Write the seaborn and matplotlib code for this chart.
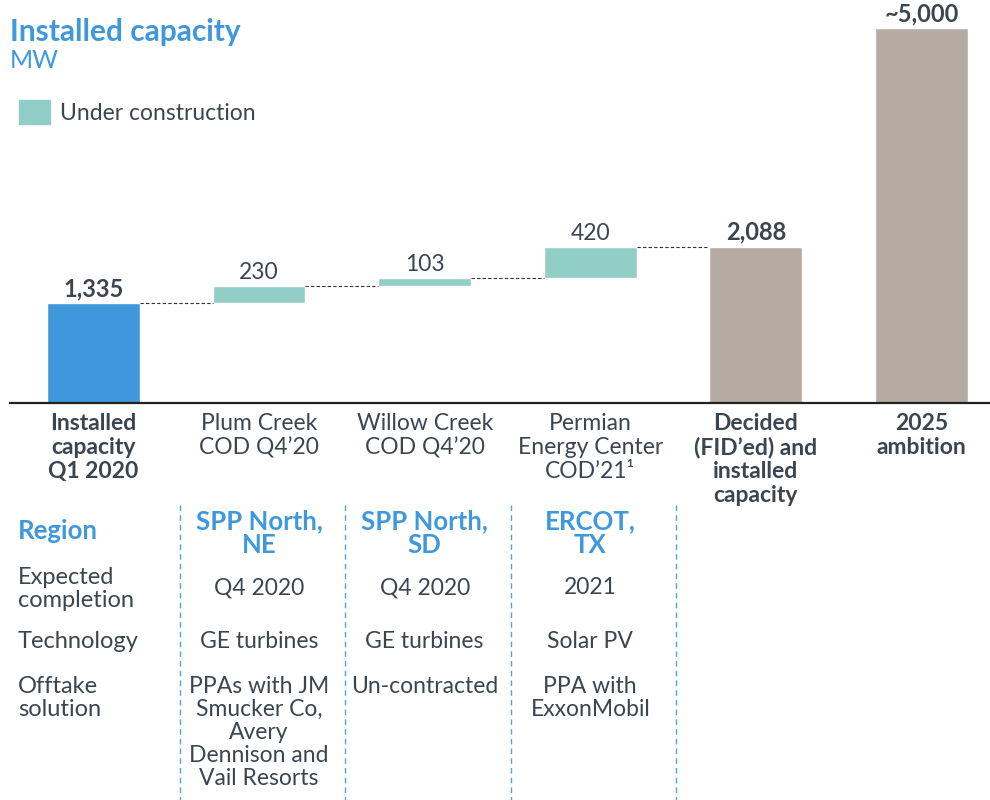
import numpy as np
import pandas as pd
import matplotlib.pyplot as plt
import seaborn as sns
from matplotlib.patches import Patch

# chart data
categories = ["Installed\ncapacity\nQ1 2020", "Plum Creek\nCOD Q4\u201920", "Willow Creek\nCOD Q4\u201920",
              "Permian\nEnergy Center\nCOD\u201921\u00b9", "Decided\n(FID\u2019ed) and\ninstalled\ncapacity",
              "2025\nambition"]
bold_cats = [True, False, False, False, True, True]
totals = [1335, np.nan, np.nan, np.nan, 2088, 5000]
steps = [230, 103, 420]
value_labels = ["1,335", "230", "103", "420", "2,088", "~5,000"]

row_names = ["Region", "Expected\ncompletion", "Technology", "Offtake\nsolution"]
region = ["SPP North,\nNE", "SPP North,\nSD", "ERCOT,\nTX"]
completion = ["Q4 2020", "Q4 2020", "2021"]
technology = ["GE turbines", "GE turbines", "Solar PV"]
offtake = ["PPAs with JM\nSmucker Co,\nAvery\nDennison and\nVail Resorts", "Un-contracted", "PPA with\nExxonMobil"]

BLUE = "#3f98dc"
TEAL = "#91cec7"
GREY = "#b5aba2"
TEXT = "#3b4550"
bar_colors = [BLUE, TEAL, TEAL, TEAL, GREY, GREY]
FS = 16.5

sns.set_style("white")
plt.rcParams['font.family'] = ['Lato', 'DejaVu Sans']

fig = plt.figure(figsize=(9.9, 8), dpi=100)
ax = fig.add_axes([10/990, 397/800, 980/990, 403/800])

df = pd.DataFrame({'cat': categories, 'total': totals})
sns.barplot(data=df, x='cat', y='total', hue='cat', order=categories, hue_order=categories,
            palette=dict(zip(categories, bar_colors)),
            width=0.56, legend=False, ax=ax, saturation=1)

# floating bars for projects under construction
bottoms = np.cumsum([totals[0]] + steps[:-1])
ax.bar([1, 2, 3], steps, bottom=bottoms, width=0.56, color=TEAL)

bar_tops = [totals[0]] + list(bottoms + np.array(steps)) + [totals[4], totals[5]]

# connectors
levels = [totals[0]] + list(bottoms[1:]) + [bottoms[-1] + steps[-1]]
for i, lv in enumerate(levels):
    ax.plot([i + 0.28, i + 0.72], [lv, lv], color="#333333", lw=0.8, ls=(0, (3, 2)))

for i, (t, lab) in enumerate(zip(bar_tops, value_labels)):
    ax.annotate(lab, (i, t), xytext=(0, 2), textcoords='offset points', ha='center', va='bottom',
                fontsize=17 if bold_cats[i] else FS, color=TEXT,
                fontweight='bold' if bold_cats[i] else 'normal')

ax.set_xlim(-0.504, 5.414)
ax.set_ylim(0, 5380)
ax.set_yticks([])
ax.set_xlabel('')
ax.set_ylabel('')
for s in ['top', 'right', 'left']:
    ax.spines[s].set_visible(False)
ax.spines['bottom'].set_color('#222222')
ax.spines['bottom'].set_linewidth(1.6)
ax.set_xticks(range(len(categories)))
ax.set_xticklabels(categories, fontsize=FS, color=TEXT, va='top')
for lbl, b in zip(ax.get_xticklabels(), bold_cats):
    lbl.set_fontweight('bold' if b else 'normal')
    lbl.set_linespacing(1.17)
ax.tick_params(axis='x', length=0, pad=7)

# title and legend
fig.text(10/990, 1 - 32/800, "Installed capacity", fontsize=21.5, fontweight='bold', color=BLUE, va='center')
fig.text(10/990, 1 - 60/800, "MW", fontsize=18, color=BLUE, va='center')
fig.legend(handles=[Patch(color=TEAL, label="Under construction")], loc='upper left',
           bbox_to_anchor=(19/990, 1 - 100/800), frameon=False, borderpad=0, borderaxespad=0,
           fontsize=FS, handlelength=1.35, handleheight=1.25, handletextpad=0.45, labelcolor=TEXT)

# table below the chart
tab = fig.add_axes([10/990, 0, 980/990, 397/800])
tab.set_xlim(-0.504, 5.414)
tab.set_ylim(800, 403)
tab.axis('off')
for xv in [0.52, 1.52, 2.52, 3.52]:
    tab.plot([xv, xv], [505, 800], color=BLUE, lw=1, ls=(0, (4, 3)), alpha=0.9)

xl = -0.456
tab.text(xl, 531, row_names[0], fontsize=18.5, fontweight='bold', color=BLUE, va='center', ha='left')
tab.text(xl, 589, row_names[1], fontsize=17, color=TEXT, va='center', ha='left', linespacing=1.13)
tab.text(xl, 642, row_names[2], fontsize=17, color=TEXT, va='center', ha='left')
tab.text(xl, 698, row_names[3], fontsize=17, color=TEXT, va='center', ha='left', linespacing=1.13)

for i in range(3):
    x = i + 1
    tab.text(x, 533, region[i], fontsize=18.5, fontweight='bold', color=BLUE, ha='center', va='center',
             linespacing=1.02)
    tab.text(x, 588, completion[i], fontsize=FS, color=TEXT, ha='center', va='center')
    tab.text(x, 642, technology[i], fontsize=FS, color=TEXT, ha='center', va='center')
    tab.text(x, 676, offtake[i], fontsize=FS, color=TEXT, ha='center', va='top', linespacing=1.12)

fig.savefig("out.png", dpi=100)
